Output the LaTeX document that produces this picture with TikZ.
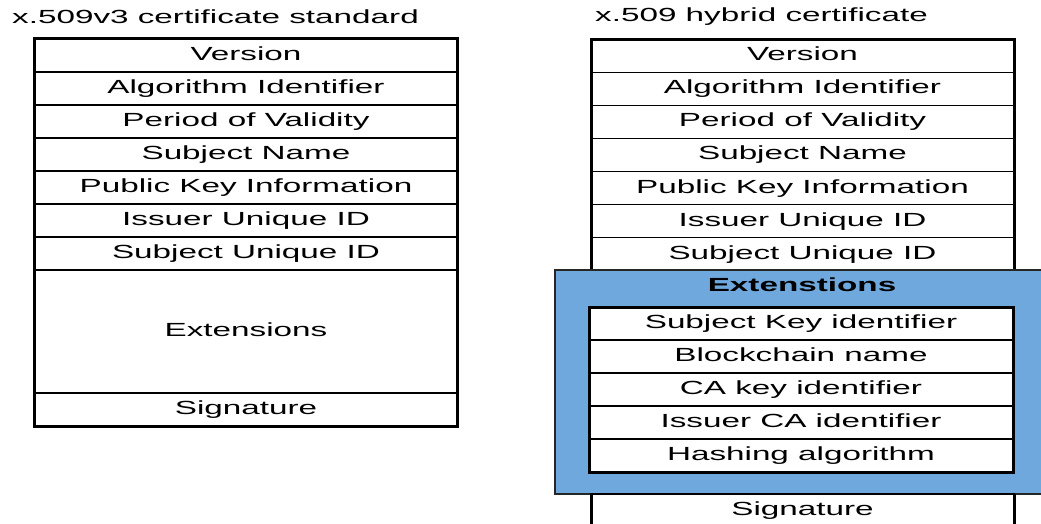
\documentclass[tikz,border=0pt]{standalone}
\usepackage{fontspec}
\usepackage{graphicx}
\setmainfont{Liberation Sans}
\usetikzlibrary{positioning}
\definecolor{extblue}{RGB}{111,168,221}
\newcommand{\wide}[1]{\scalebox{1.75}[1]{#1}}
\tikzset{
    field/.style={draw, line width=1.5pt, minimum width=423pt, minimum height=33pt,
        inner sep=0pt, outer sep=0pt, text height=14pt, text depth=4pt,
        font=\fontsize{19}{22}\selectfont},
    frame/.style={line width=3pt},
    heading/.style={anchor=west, inner sep=0pt, font=\fontsize{19}{22}\selectfont}
}
\begin{document}
\begin{tikzpicture}[x=1pt, y=1pt]
        \useasboundingbox (0,0) rectangle (1041,-524);

        % Titles
        \node[heading] (ltitle) at (12,-17) {\wide{x.509v3 certificate standard}};
        \node[heading] (rtitle) at (595,-17) {\wide{x.509 hybrid certificate}};

        % Standard certificate (left)
        \node[field] (lver) at (246,-55.5) {\wide{Version}};
        \node[field, below=0pt of lver] (lalg) {\wide{Algorithm Identifier}};
        \node[field, below=0pt of lalg] (lval) {\wide{Period of Validity}};
        \node[field, below=0pt of lval] (lsub) {\wide{Subject Name}};
        \node[field, below=0pt of lsub] (lkey) {\wide{Public Key Information}};
        \node[field, below=0pt of lkey] (liss) {\wide{Issuer Unique ID}};
        \node[field, below=0pt of liss] (lsuid) {\wide{Subject Unique ID}};
        \node[field, minimum height=123pt, below=0pt of lsuid] (lext) {\wide{Extensions}};
        \node[field, below=0pt of lext] (lsig) {\wide{Signature}};
        \draw[frame] (lver.north west) rectangle (lsig.south east);

        % Hybrid certificate (right)
        \node[field] (rver) at (802.5,-56) {\wide{Version}};
        \node[field, below=0pt of rver] (ralg) {\wide{Algorithm Identifier}};
        \node[field, below=0pt of ralg] (rval) {\wide{Period of Validity}};
        \node[field, below=0pt of rval] (rsub) {\wide{Subject Name}};
        \node[field, below=0pt of rsub] (rkey) {\wide{Public Key Information}};
        \node[field, below=0pt of rkey] (riss) {\wide{Issuer Unique ID}};
        \node[field, below=0pt of riss] (rsuid) {\wide{Subject Unique ID}};
        \draw[frame] (rver.north west) rectangle (rsuid.south east);

        % Extensions block
        \draw[fill=extblue, line width=2.5pt, draw=black!85] (555,-270) rectangle (1050,-494);
        \node[font=\fontsize{19}{22}\selectfont\bfseries, text height=14pt, text depth=4pt] (rext) at (802,-286) {\wide{Extenstions}};
        \node[field, fill=white, minimum width=424pt] (rski) at (801,-323.5) {\wide{Subject Key identifier}};
        \node[field, fill=white, minimum width=424pt, below=0pt of rski] (rbcn) {\wide{Blockchain name}};
        \node[field, fill=white, minimum width=424pt, below=0pt of rbcn] (rcak) {\wide{CA key identifier}};
        \node[field, fill=white, minimum width=424pt, below=0pt of rcak] (rica) {\wide{Issuer CA identifier}};
        \node[field, fill=white, minimum width=424pt, below=0pt of rica] (rhash) {\wide{Hashing algorithm}};
        \draw[frame] (rski.north west) rectangle (rhash.south east);

        \node[field, anchor=north] (rsig) at (802.5,-494) {\wide{Signature}};
        \draw[frame] (rsig.north west) -- (rsig.south west);
        \draw[frame] (rsig.north east) -- (rsig.south east);
\end{tikzpicture}
\end{document}
